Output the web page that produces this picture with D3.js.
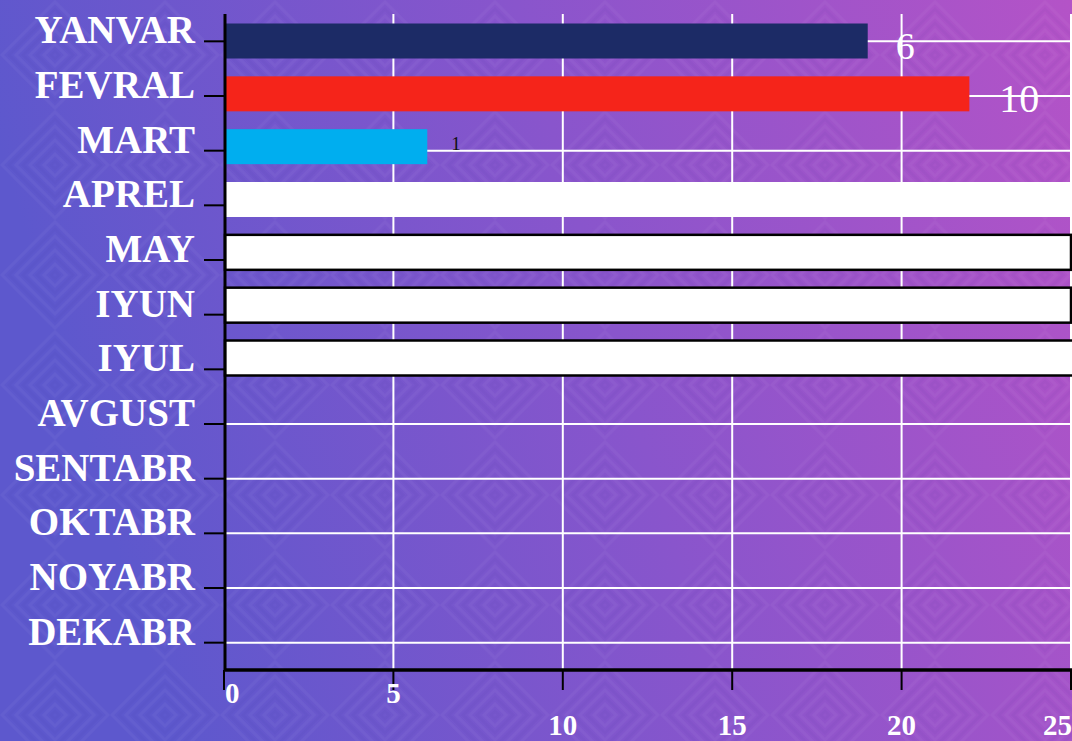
<!DOCTYPE html>
<html>
<head>
<meta charset="utf-8">
<script src="https://cdn.jsdelivr.net/npm/d3@7.9.0/dist/d3.min.js"></script>
<style>
  html, body { margin: 0; padding: 0; overflow: hidden; }
  svg { display: block; }
</style>
</head>
<body>
<div id="chart"></div>
<script>
// --- data
const months = ['YANVAR', 'FEVRAL', 'MART', 'APREL', 'MAY', 'IYUN', 'IYUL',
                'AVGUST', 'SENTABR', 'OKTABR', 'NOYABR', 'DEKABR'];
const barMonths = ['YANVAR', 'FEVRAL', 'MART', 'APREL', 'MAY', 'IYUN', 'IYUL'];
const barValues = [19, 22, 6, 26, 25, 25, 26];
const barLabels = ['6', '10', '1', '', '', '', ''];
const xTicks = [0, 5, 10, 15, 20, 25];
const xTickRow = [0, 0, 1, 1, 1, 1];   // staggered tick labels

// --- styles (kept apart from the data)
const barFill   = ['#1c2b66', '#f5241a', '#00aeef', '#ffffff', '#ffffff', '#ffffff', '#ffffff'];
const barStroke = [null, null, null, null, '#000', '#000', '#000'];
const labelSize  = [38, 40, 19, 0, 0, 0, 0];
const labelColor = ['#fff', '#fff', '#111', '#fff', '#fff', '#fff', '#fff'];
const labelGap   = [28, 30, 24, 0, 0, 0, 0];
const labelDy    = [18, 18, 3, 0, 0, 0, 0];

const width = 1072, height = 741;
const plot = { left: 224, right: 1071, top: 14, bottom: 670 };
const serif = '"Liberation Serif", "Times New Roman", serif';

const svg = d3.select('#chart').append('svg')
  .attr('width', width).attr('height', height);

// background: horizontal gradient + faint nested chevrons
const defs = svg.append('defs');
const grad = defs.append('linearGradient').attr('id', 'bg')
  .attr('x1', '0%').attr('y1', '20%').attr('x2', '100%').attr('y2', '0%');
grad.append('stop').attr('offset', '0%').attr('stop-color', '#5d58cd');
grad.append('stop').attr('offset', '50%').attr('stop-color', '#8955cc');
grad.append('stop').attr('offset', '100%').attr('stop-color', '#b453c7');

const pat = defs.append('pattern').attr('id', 'chev')
  .attr('patternUnits', 'userSpaceOnUse').attr('width', 110).attr('height', 110);
for (let r = 4; r <= 55; r += 7) {
  pat.append('path')
    .attr('d', `M${55 - r},55 L55,${55 - r} L${55 + r},55 L55,${55 + r} Z`)
    .attr('fill', 'none').attr('stroke', r % 2 ? '#ffffff' : '#2a1a70')
    .attr('stroke-opacity', 0.035).attr('stroke-width', 3);
}
svg.append('rect').attr('width', width).attr('height', height).attr('fill', 'url(#bg)');
svg.append('rect').attr('width', width).attr('height', height).attr('fill', 'url(#chev)');

// scales
const x = d3.scaleLinear().domain([0, 25]).range([plot.left, plot.right]);
const y = d3.scaleBand().domain(months).range([plot.top, plot.bottom]);
// the bars sit on a slightly tighter spacing than the category ticks
const yBar = d3.scalePoint().domain(barMonths).range([41, 358]);
const barH = 35;

// gridlines
const grid = svg.append('g').attr('stroke', '#fff').attr('stroke-width', 2);
grid.selectAll('line.v').data(xTicks.filter(d => d > 0)).join('line')
  .attr('x1', d => x(d)).attr('x2', d => x(d))
  .attr('y1', plot.top).attr('y2', plot.bottom);
grid.selectAll('line.h').data(months).join('line')
  .attr('x1', plot.left).attr('x2', width)
  .attr('y1', d => y(d) + y.bandwidth() / 2).attr('y2', d => y(d) + y.bandwidth() / 2);

// bars
svg.append('g').selectAll('rect').data(barMonths).join('rect')
  .attr('x', x(0) + 1)
  .attr('y', d => yBar(d) - barH / 2)
  .attr('width', (d, i) => x(barValues[i]) - x(0) - 1)
  .attr('height', barH)
  .attr('fill', (d, i) => barFill[i])
  .attr('stroke', (d, i) => barStroke[i] || 'none')
  .attr('stroke-width', 2.5);

// bar value labels
svg.append('g').selectAll('text').data(barMonths).join('text')
  .attr('x', (d, i) => x(barValues[i]) + labelGap[i])
  .attr('y', (d, i) => yBar(d) + labelDy[i])
  .attr('font-family', serif)
  .attr('font-size', (d, i) => labelSize[i])
  .attr('fill', (d, i) => labelColor[i])
  .text((d, i) => barLabels[i]);

// y axis
const yAxis = svg.append('g');
yAxis.append('line')
  .attr('x1', plot.left + 1).attr('x2', plot.left + 1)
  .attr('y1', plot.top).attr('y2', plot.bottom + 1)
  .attr('stroke', '#000').attr('stroke-width', 3);
yAxis.selectAll('line.t').data(months).join('line')
  .attr('x1', 204).attr('x2', plot.left)
  .attr('y1', d => y(d) + y.bandwidth() / 2).attr('y2', d => y(d) + y.bandwidth() / 2)
  .attr('stroke', '#000').attr('stroke-width', 2);
yAxis.selectAll('text').data(months).join('text')
  .attr('x', 195)
  .attr('y', d => y(d) + y.bandwidth() / 2 + 2)
  .attr('text-anchor', 'end')
  .attr('font-family', serif).attr('font-weight', 'bold')
  .attr('font-size', 39).attr('fill', '#fff')
  .text(d => d);

// x axis
const xAxis = svg.append('g');
xAxis.append('line')
  .attr('x1', plot.left).attr('x2', width)
  .attr('y1', plot.bottom).attr('y2', plot.bottom)
  .attr('stroke', '#000').attr('stroke-width', 3.5);
xAxis.selectAll('line.t').data(xTicks).join('line')
  .attr('x1', d => x(d)).attr('x2', d => x(d))
  .attr('y1', plot.bottom).attr('y2', plot.bottom + 20)
  .attr('stroke', '#000').attr('stroke-width', 2);
xAxis.selectAll('text').data(xTicks).join('text')
  .attr('y', (d, i) => xTickRow[i] ? 735 : 703)
  .attr('font-family', serif).attr('font-weight', 'bold')
  .attr('font-size', 29).attr('fill', '#fff')
  .text(d => d)
  .each(function (d) {
    // keep the end labels inside the plot width
    const w = this.getComputedTextLength();
    const cx = Math.max(plot.left + 1 + w / 2, Math.min(width - w / 2, x(d)));
    d3.select(this).attr('x', cx).attr('text-anchor', 'middle');
  });
</script>
</body>
</html>
